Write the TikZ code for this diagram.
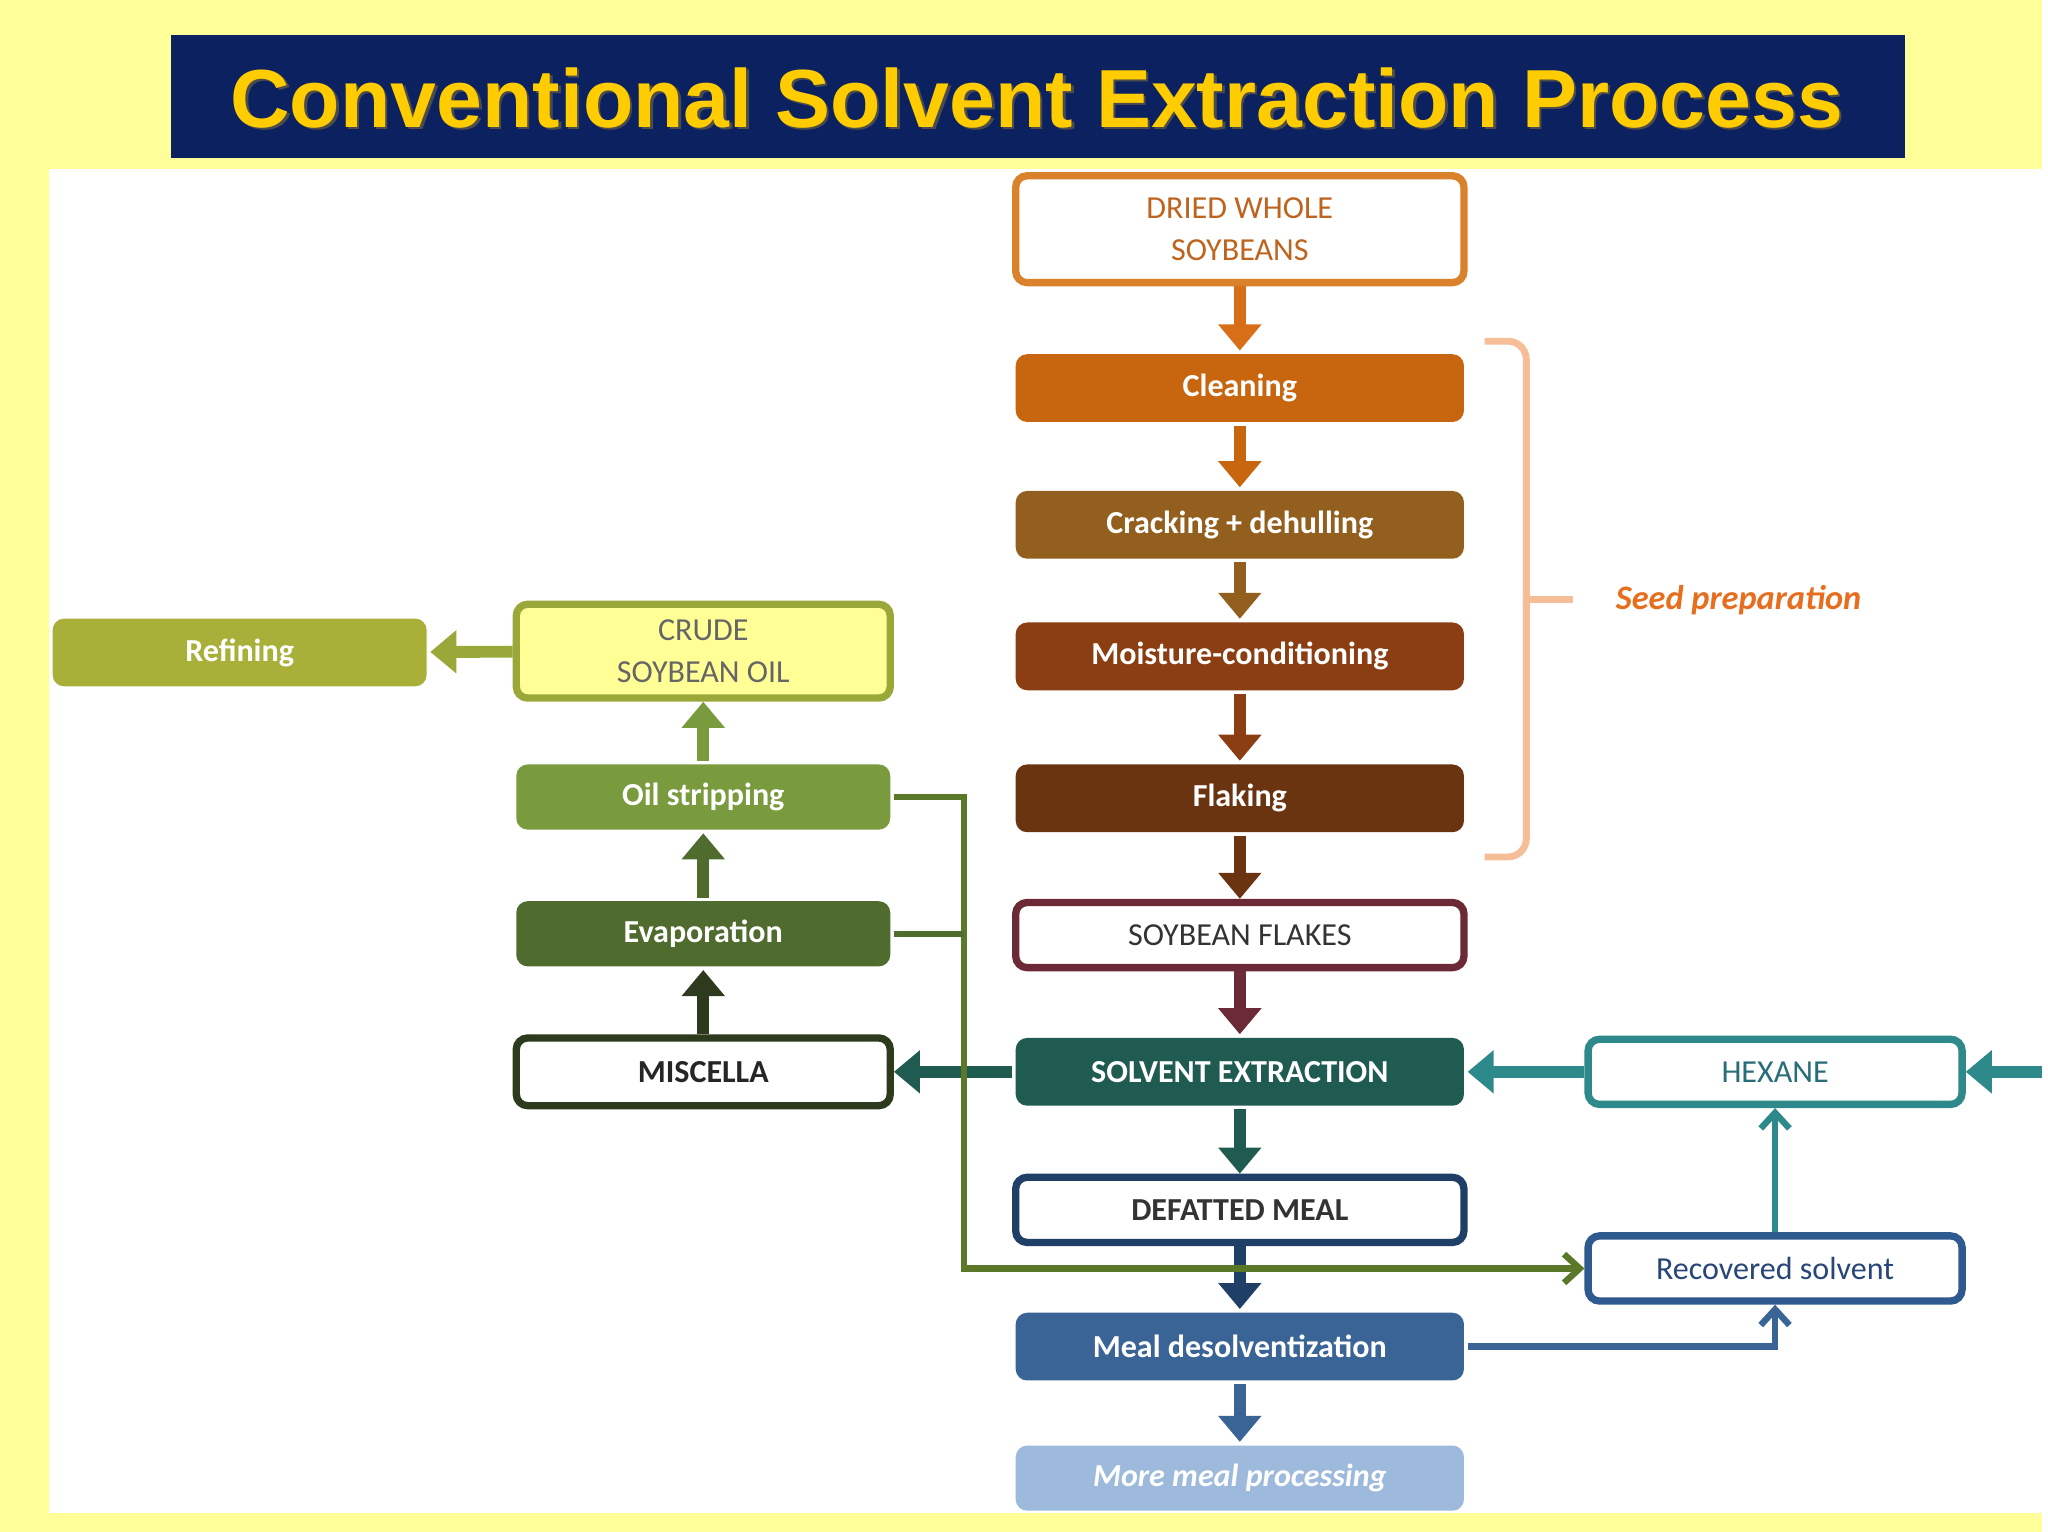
\documentclass[tikz,border=0pt]{standalone}
\usepackage{fontspec}
\setmainfont{Carlito}
\newfontfamily\titlefont{Liberation Sans}
\usetikzlibrary{arrows.meta}
\definecolor{bgy}{HTML}{FFFF99}
\definecolor{navy}{HTML}{0B2160}
\definecolor{gold}{HTML}{FFCC00}
\definecolor{cdried}{RGB}{217,130,43}
\definecolor{cdriedt}{RGB}{190,100,30}
\definecolor{carr1}{RGB}{217,110,25}
\definecolor{cclean}{RGB}{200,101,15}
\definecolor{ccrack}{RGB}{147,95,30}
\definecolor{cmoist}{RGB}{139,62,18}
\definecolor{cflak}{RGB}{107,52,16}
\definecolor{cflakes}{RGB}{107,42,54}
\definecolor{csolv}{RGB}{31,91,80}
\definecolor{cdefat}{RGB}{31,63,102}
\definecolor{cdesolv}{RGB}{58,100,150}
\definecolor{cmore}{RGB}{157,185,220}
\definecolor{ccrude}{RGB}{154,168,58}
\definecolor{ccrudef}{RGB}{255,255,150}
\definecolor{cstrip}{RGB}{122,154,62}
\definecolor{cevap}{RGB}{79,107,46}
\definecolor{cmisc}{RGB}{46,58,30}
\definecolor{cref}{RGB}{168,176,58}
\definecolor{chex}{RGB}{46,138,138}
\definecolor{chext}{RGB}{40,110,120}
\definecolor{crec}{RGB}{47,90,144}
\definecolor{crect}{RGB}{40,70,120}
\definecolor{cbrace}{RGB}{245,190,150}
\definecolor{cseed}{RGB}{230,110,30}
\definecolor{cline}{RGB}{90,120,40}
\begin{document}
\begin{tikzpicture}[x=0.01cm,y=-0.01cm,
 box/.style={rounded corners=2.5pt,line width=1.6pt,minimum width=3.44cm,minimum height=0.52cm,inner sep=0pt,font=\fontsize{7}{8}\selectfont\bfseries,align=center},
 lbox/.style={box,minimum width=2.87cm},
 fl/.style={-{Triangle[length=0.2cm,width=0.32cm]},line width=2.6pt},
 tl/.style={-{Straight Barb[length=0.12cm,width=0.22cm]},line width=1.4pt}]
\fill[bgy] (0,0) rectangle (1568,1176);
\fill[white] (38,130) rectangle (1568,1162);
\fill[navy] (131,27) rectangle (1463,121);
\node[text=black!70,font=\titlefont\fontsize{18}{20}\selectfont\bfseries] at (798,77) {Conventional Solvent Extraction Process};
\node (title) [text=gold,font=\titlefont\fontsize{18}{20}\selectfont\bfseries] at (796,75) {Conventional Solvent Extraction Process};
% centre column
\node (dried) [box,draw=cdried,fill=white,text=cdriedt,minimum height=0.82cm,font=\fontsize{7}{9}\selectfont] at (952,176) {DRIED WHOLE\\SOYBEANS};
\node (clean) [box,fill=cclean,text=white] at (952,298) {Cleaning};
\node (crack) [box,fill=ccrack,text=white] at (952,403) {Cracking + dehulling};
\node (moist) [box,fill=cmoist,text=white] at (952,504) {Moisture-conditioning};
\node (flak) [box,fill=cflak,text=white] at (952,613) {Flaking};
\node (flakes) [box,draw=cflakes,fill=white,text=black!80,font=\fontsize{7}{8}\selectfont,minimum height=0.5cm] at (952,718) {SOYBEAN FLAKES};
\node (solv) [box,fill=csolv,text=white] at (952,823) {SOLVENT EXTRACTION};
\node (defat) [box,draw=cdefat,fill=white,text=black!80,minimum height=0.5cm] at (952,929) {DEFATTED MEAL};
\node (desolv) [box,fill=cdesolv,text=white] at (952,1034) {Meal desolventization};
\node (more) [box,fill=cmore,text=white,font=\fontsize{7}{8}\selectfont\bfseries\itshape,minimum height=0.5cm] at (952,1135) {More meal processing};
% left column
\node (crude) [lbox,draw=ccrude,fill=ccrudef,text=black!60,minimum height=0.72cm,font=\fontsize{7}{9}\selectfont] at (540,500) {CRUDE\\SOYBEAN OIL};
\node (strip) [lbox,fill=cstrip,text=white,minimum height=0.5cm] at (540,612) {Oil stripping};
\node (evap) [lbox,fill=cevap,text=white,minimum height=0.5cm] at (540,717) {Evaporation};
\node (misc) [lbox,draw=cmisc,fill=white,text=black!85] at (540,823) {MISCELLA};
\node (ref) [lbox,fill=cref,text=white] at (184,501) {Refining};
% right
\node (hex) [lbox,draw=chex,fill=white,text=chext,minimum height=0.5cm,font=\fontsize{7}{8}\selectfont] at (1363,823) {HEXANE};
\node (rec) [lbox,draw=crec,fill=white,text=crect,minimum height=0.5cm,font=\fontsize{7}{8}\selectfont] at (1363,974) {Recovered solvent};
\coordinate (rin) at (1568,823);
\coordinate (j1) at (740,612);
\coordinate (j2) at (740,974);
\coordinate (j3) at (740,717);
% brace
\draw[cbrace,line width=1.5pt,rounded corners=4pt] (1140,262) -- (1172,262) -- (1172,658) -- (1140,658);
\draw[cbrace,line width=1.5pt] (1172,460) -- (1208,460);
\node (seed) [text=cseed,font=\fontsize{7.5}{9}\selectfont\bfseries\itshape] at (1335,461) {Seed preparation};
% centre arrows
\draw[fl,carr1] (dried) -- (clean);
\draw[fl,cclean] (clean) -- (crack);
\draw[fl,ccrack] (crack) -- (moist);
\draw[fl,cmoist] (moist) -- (flak);
\draw[fl,cflak] (flak) -- (flakes);
\draw[fl,cflakes] (flakes) -- (solv);
\draw[fl,csolv] (solv) -- (defat);
\draw[fl,cdefat] (defat) -- (desolv);
\draw[fl,cdesolv] (desolv) -- (more);
% left arrows
\draw[fl,csolv] (solv) -- (misc);
\draw[fl,cmisc] (misc) -- (evap);
\draw[fl,cevap] (evap) -- (strip);
\draw[fl,cstrip] (strip) -- (crude);
\draw[fl,ccrude] (crude) -- (ref);
% right arrows
\draw[fl,chex] (rin) -- (hex);
\draw[fl,chex] (hex) -- (solv);
\draw[tl,chex] (rec) -- (hex);
\draw[tl,cdesolv] (desolv.east) -| (rec.south);
\draw[tl,cline] (strip.east) -- (j1) -- (j2) -- (rec.west);
\draw[cevap,line width=1.4pt] (evap.east) -- (j3);
\end{tikzpicture}
\end{document}
